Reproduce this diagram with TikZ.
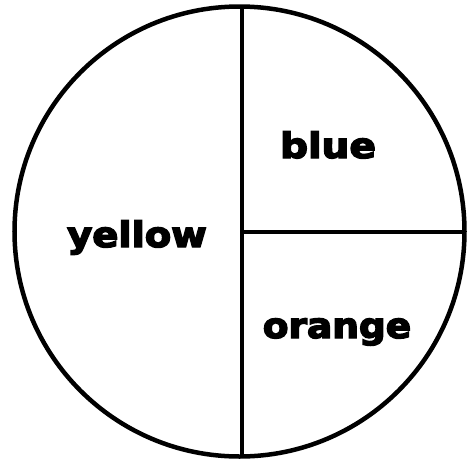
\documentclass[tikz,border=0pt]{standalone}
\usepackage{fontspec}
\setmainfont{DejaVu Sans}
\newfontfamily\heavyfont[FakeBold=4]{DejaVu Sans Bold}
\tikzset{
  lbl/.style={anchor=base, inner sep=0pt, font=\fontsize{35}{35}\selectfont\heavyfont},
  rim/.style={line width=4.5pt},
  divider/.style={line width=3.2pt}
}
\begin{document}
\begin{tikzpicture}[x=1pt,y=-1pt]
\useasboundingbox (0,0) rectangle (469,464);
\fill[white] (0,0) rectangle (469,464);
\coordinate (ctr) at (239.5,231.5);
\draw[rim] (ctr) circle (225);
\coordinate (top) at (242,6.6);
\coordinate (bot) at (242,456.4);
\coordinate (mid) at (242,232);
\coordinate (right) at (464.5,232);
\draw[divider] (top) -- (bot);
\draw[divider] (mid) -- (right);
\node[lbl] (yellow) at (137,247) {\scalebox{1.1}[1]{yellow}};
\node[lbl] (blue) at (328,158) {\scalebox{1.12}[1]{blue}};
\node[lbl] (orange) at (337,338) {\scalebox{1.07}[1]{orange}};
\end{tikzpicture}
\end{document}
